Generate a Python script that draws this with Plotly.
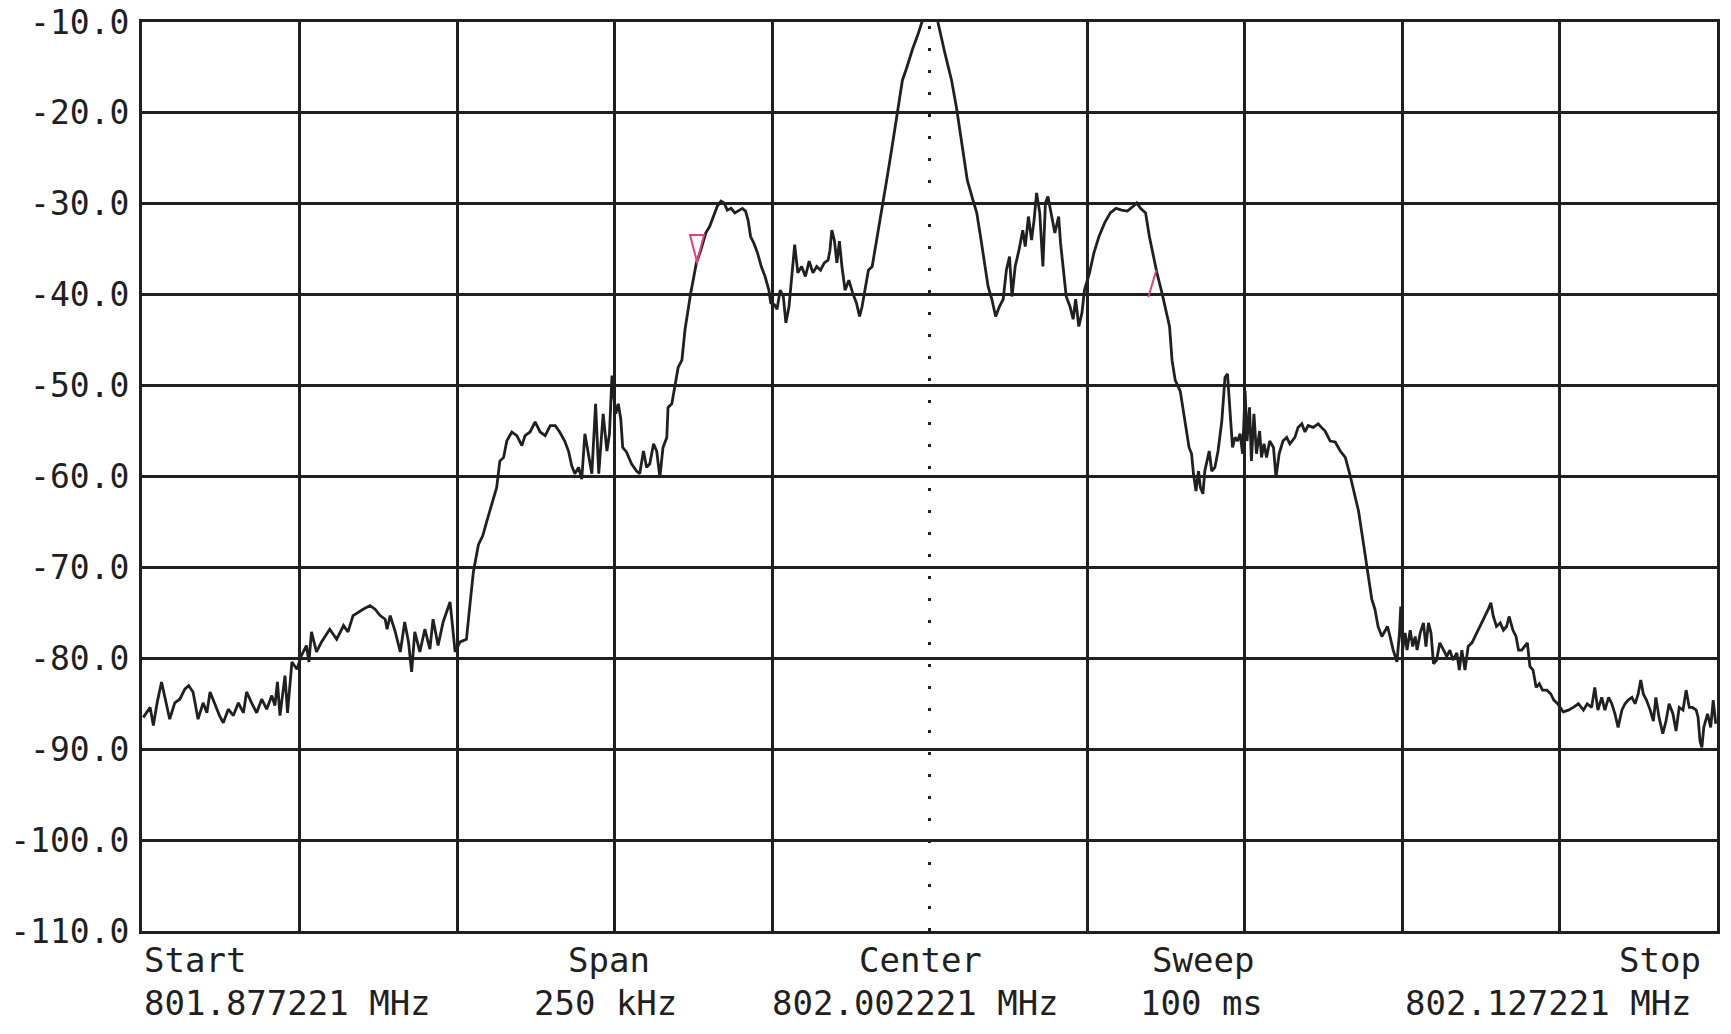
import plotly.graph_objects as go

# ---------------- data ----------------
center_mhz = 802.002221
span_khz = 250

freq_offset_khz = [
    -124.8, -124.3, -123.7, -123.2, -122.6, -121.9, -121.2, -120.6, -119.8, -119.0,
    -118.2, -117.6, -116.9, -116.1, -115.3, -114.7, -114.2, -113.4, -112.7, -112.1,
    -111.3, -110.5, -109.7, -108.9, -108.4, -107.6, -106.8, -106.0, -105.2, -104.4,
    -103.9, -103.5, -103.1, -102.3, -101.9, -101.2, -100.4, -99.7, -98.9, -98.5,
    -98.1, -97.3, -96.5, -95.2, -94.1, -93.0, -92.3, -91.5, -90.7, -89.9,
    -88.8, -88.0, -87.2, -86.4, -86.1, -85.6, -84.8, -84.0, -83.3, -82.7,
    -82.2, -81.7, -80.9, -80.1, -79.3, -78.8, -78.0, -77.2, -76.1, -75.3,
    -74.5, -73.5, -72.9, -72.4, -71.6, -70.9, -70.3,
    -69.8, -68.7, -68.2, -67.6, -67.1, -66.3, -65.5, -64.7, -64.2, -63.4,
    -62.6, -61.8, -61.0, -60.2, -59.4, -58.7, -57.9, -57.3, -56.8, -56.3,
    -55.7, -55.2, -54.7, -54.2, -53.6, -53.0, -52.5, -51.8, -51.2, -50.8,
    -50.4, -50.1, -49.8, -49.4, -49.0, -48.7, -48.1, -47.3, -46.5, -46.0,
    -45.4, -44.9, -44.4, -43.8, -43.3, -42.8, -42.3, -41.7, -41.5, -40.9,
    -40.4, -39.9, -39.3,
    -38.8, -37.9, -37.0, -36.3, -35.5, -34.9, -34.3, -33.7, -33.1, -32.6,
    -32.1, -31.5, -30.9, -30.3, -29.7, -29.2, -28.8, -28.4, -27.9, -27.3,
    -26.7, -26.1, -25.5, -25.2, -24.6, -24.2, -23.7, -23.2, -22.8, -22.3,
    -21.9, -21.4, -20.9, -20.3, -19.7, -19.1, -18.5, -17.9, -17.3, -16.7,
    -16.1, -15.8, -15.5, -15.1, -14.7, -14.3, -13.9, -13.4, -12.8, -12.2,
    -11.6, -11.1, -10.7, -10.2, -9.7, -9.1, -8.5, -7.9, -7.3, -6.8,
    -6.0, -5.2, -4.3, -3.6, -2.7, -1.8, -1.2, -0.5, 0.5, 1.2,
    1.7, 2.4, 3.0, 3.5, 4.3, 5.2,
    6.0, 6.9, 7.5, 8.1, 8.7, 9.3, 9.9, 10.5, 11.1, 11.7,
    12.2, 12.7, 13.1, 13.6, 14.2, 14.8, 15.2, 15.7, 16.2, 16.6,
    17.0, 17.5, 18.0, 18.4, 18.8, 19.3, 19.9, 20.5, 20.8, 21.2,
    21.7, 22.3, 22.8, 23.2, 23.7, 24.2, 24.6, 25.4, 26.1, 26.9,
    27.8, 28.7, 29.6, 30.5, 31.4, 32.3, 32.9, 33.5, 34.3, 34.9,
    35.5, 36.1, 36.9, 37.5, 38.1,
    38.5, 39.0, 39.8, 40.3, 40.8, 41.2, 41.6, 41.9, 42.3, 42.7,
    43.0, 43.4, 43.7, 44.1, 44.4, 44.8, 45.3, 45.8, 46.4, 46.9,
    47.3, 47.7, 48.1, 48.5, 48.9, 49.3, 49.7, 50.1, 50.4, 50.8,
    51.1, 51.5, 51.9, 52.4, 52.7, 53.1, 53.5, 54.0, 54.6, 55.0,
    55.5, 56.1, 56.7, 57.2, 58.0, 58.5, 59.1, 59.6, 60.1, 60.9,
    61.7, 62.2, 62.8, 63.6, 64.4, 65.2, 66.0, 66.7, 67.4, 68.1,
    68.8, 69.5,
    70.2, 70.7, 71.2, 71.8, 72.3, 72.7, 73.1, 73.6, 74.2, 74.6,
    74.8, 75.1, 75.5, 75.8, 76.3, 76.7, 77.1, 77.4, 77.9, 78.4,
    78.8, 79.2, 79.6, 80.0, 80.5, 81.0, 81.6, 82.1, 82.6, 83.1,
    83.7, 84.1, 84.5, 85.0, 85.5, 86.1, 86.6, 87.1, 87.6, 88.2,
    88.7, 89.1, 89.5, 90.0, 90.6, 91.1, 91.6, 92.0, 92.6, 93.1,
    93.5, 94.0, 94.5, 94.9, 95.3, 95.8, 96.3, 96.8, 97.3, 98.0,
    98.6, 99.1, 99.7, 100.1, 100.6, 101.4, 102.2, 103.0, 103.8, 104.4,
    105.1, 105.6, 106.1, 106.7, 107.2, 107.8, 108.3, 108.8, 109.3, 109.9,
    110.4, 110.9, 111.5, 112.0, 112.5, 112.9, 113.3, 113.8, 114.4, 114.9,
    115.3, 115.8, 116.4, 116.9, 117.4, 118.0, 118.5, 119.0, 119.6, 120.1,
    120.6, 121.1, 121.7, 122.0, 122.3, 122.6, 122.9, 123.5, 124.0, 124.4,
    124.8,
]

level_dbm = [
    -86.5, -86.0, -85.4, -87.4, -84.9, -82.6, -84.9, -86.7, -84.9, -84.5,
    -83.4, -83.0, -83.7, -86.7, -84.9, -86.0, -83.7, -85.2, -86.3, -87.1,
    -85.6, -86.3, -84.9, -86.0, -83.7, -84.9, -86.0, -84.5, -85.6, -84.1,
    -85.2, -82.6, -86.3, -81.9, -86.0, -80.4, -81.2, -79.7, -78.6, -80.4,
    -77.1, -79.3, -78.2, -76.8, -77.9, -76.4, -77.1, -75.3, -74.9, -74.6,
    -74.2, -74.6, -75.3, -75.7, -76.8, -75.3, -77.1, -79.3, -76.0, -78.2,
    -81.5, -77.1, -79.3, -76.8, -79.0, -75.7, -78.6, -76.0, -73.8, -79.3,
    -78.2, -77.9, -73.8, -70.5, -67.5, -66.5, -65.0,
    -63.8, -61.2, -58.3, -57.9, -56.1, -55.1, -55.5, -56.6, -55.5, -55.1,
    -54.0, -55.1, -55.5, -54.4, -54.4, -55.1, -56.1, -57.2, -58.8, -59.7,
    -59.0, -60.3, -55.3, -57.5, -59.7, -52.0, -59.7, -53.1, -57.2, -55.3,
    -48.9, -51.3, -53.1, -52.0, -53.7, -56.8, -57.3, -58.6, -59.4, -59.7,
    -57.2, -59.0, -58.6, -56.4, -57.2, -60.1, -56.8, -55.7, -52.4, -52.0,
    -50.2, -48.0, -47.2,
    -43.8, -39.8, -36.5, -35.1, -33.2, -32.5, -31.4, -30.3, -29.7, -29.9,
    -30.7, -30.5, -31.0, -30.7, -30.5, -30.8, -31.8, -33.6, -34.3, -35.4,
    -36.9, -38.0, -39.5, -40.9, -41.1, -41.6, -39.5, -40.2, -43.1, -41.3,
    -38.0, -34.5, -37.6, -36.9, -38.0, -36.3, -37.6, -36.9, -37.3, -36.5,
    -36.2, -35.1, -32.9, -34.0, -36.5, -34.1, -36.9, -39.5, -38.4, -39.8,
    -40.9, -42.4, -41.3, -39.1, -37.3, -36.9, -34.3, -31.8, -29.6, -27.4,
    -24.0, -20.5, -16.4, -15.0, -13.0, -11.3, -10.0, -9.3, -9.2, -9.6,
    -11.3, -13.3, -15.0, -16.4, -19.5, -23.5,
    -27.4, -29.6, -31.0, -33.6, -36.5, -39.1, -40.5, -42.4, -41.3, -40.5,
    -37.3, -35.8, -40.2, -36.9, -35.1, -32.9, -34.7, -31.4, -34.0, -31.8,
    -28.8, -31.0, -36.9, -29.9, -29.2, -31.0, -33.2, -31.4, -34.3, -36.9,
    -40.2, -41.3, -42.7, -40.5, -43.5, -42.0, -39.5, -37.6, -35.4, -33.6,
    -32.1, -31.0, -30.5, -30.7, -30.8, -30.3, -29.9, -30.5, -31.0, -33.6,
    -35.8, -37.6, -39.8, -41.6, -43.5,
    -47.2, -49.4, -50.6, -52.8, -55.0, -56.8, -57.5, -59.7, -61.6, -59.4,
    -61.2, -61.9, -59.4, -58.3, -57.2, -59.4, -59.0, -57.2, -53.9, -49.1,
    -48.7, -52.8, -56.8, -55.7, -56.1, -55.3, -57.5, -50.6, -56.1, -52.4,
    -58.3, -53.1, -57.5, -55.0, -57.9, -56.4, -57.9, -56.1, -56.8, -60.1,
    -57.5, -56.1, -55.7, -56.4, -55.7, -54.6, -54.2, -55.1, -54.4, -54.6,
    -54.2, -54.6, -55.0, -56.1, -56.2, -57.2, -57.9, -59.7, -61.9, -63.8,
    -67.0, -70.5,
    -73.5, -74.6, -76.5, -77.6, -76.9, -76.5, -77.6, -79.1, -80.4, -77.2,
    -74.3, -79.1, -77.2, -79.1, -76.9, -78.7, -77.6, -79.1, -77.2, -76.1,
    -78.7, -76.1, -77.2, -80.6, -80.2, -78.3, -79.1, -79.8, -79.1, -80.2,
    -79.4, -81.3, -79.1, -81.3, -78.7, -78.3, -77.6, -76.9, -76.1, -75.4,
    -74.6, -73.9, -75.4, -76.5, -76.1, -76.9, -76.5, -75.4, -76.9, -77.6,
    -79.1, -79.1, -78.7, -78.3, -80.9, -81.3, -83.2, -82.8, -83.5, -83.5,
    -83.9, -84.6, -85.0, -85.4, -85.9, -85.7, -85.4, -85.0, -85.7, -85.0,
    -85.4, -83.2, -85.7, -84.3, -85.7, -84.3, -85.0, -86.1, -87.6, -85.7,
    -85.0, -84.6, -84.3, -85.0, -83.9, -82.4, -83.9, -84.6, -85.7, -86.9,
    -84.3, -86.5, -88.3, -86.9, -85.0, -86.1, -88.0, -85.4, -85.7, -83.5,
    -85.4, -85.4, -85.7, -86.5, -89.1, -89.8, -87.6, -86.1, -87.6, -84.6,
    -87.2,
]

y_tick_values = [-10, -20, -30, -40, -50, -60, -70, -80, -90, -100, -110]
y_tick_labels = ["-10.0", "-20.0", "-30.0", "-40.0", "-50.0", "-60.0",
                 "-70.0", "-80.0", "-90.0", "-100.0", "-110.0"]
x_grid_khz = [-100, -75, -50, -25, 25, 50, 75, 100]
center_line_khz = 0

marker1_khz, marker1_dbm = -36.9, -36.4
marker2_khz, marker2_dbm = 36.0, -37.3

footer_line1 = ["Start", "Span", "Center", "Sweep", "Stop"]
footer_line2 = ["801.877221 MHz", "250 kHz", "802.002221 MHz", "100 ms", "802.127221 MHz"]

# ---------------- styling ----------------
FONT = "DejaVu Sans Mono, Liberation Mono, monospace"
INK = "#202020"
MAGENTA = "#e0407c"
FS = 34
TICK_FS = 33

fig = go.Figure()
fig.add_trace(go.Scatter(
    x=freq_offset_khz, y=level_dbm, mode="lines",
    line=dict(color=INK, width=2.8), showlegend=False, hoverinfo="skip",
))

fig.update_layout(
    width=1731, height=1034,
    margin=dict(l=142, r=14, t=22, b=103, autoexpand=False),
    paper_bgcolor="white", plot_bgcolor="white",
    font=dict(family=FONT, color=INK, size=FS),
    showlegend=False,
)
fig.update_xaxes(
    range=[-span_khz / 2, span_khz / 2], tickvals=x_grid_khz, showticklabels=False,
    ticks="", showgrid=True, gridcolor=INK, gridwidth=2.5, zeroline=False,
    showline=True, mirror=True, linecolor=INK, linewidth=3, automargin=False,
)
fig.update_yaxes(
    range=[-110, -10], tickvals=y_tick_values, ticktext=y_tick_labels,
    ticks="", showgrid=True, gridcolor=INK, gridwidth=2.5, zeroline=False,
    showline=True, mirror=True, linecolor=INK, linewidth=3, automargin=False,
    tickfont=dict(family=FONT, size=TICK_FS, color=INK), ticklabelstandoff=3,
    ticklabeloverflow="allow",
)

# dotted center line
fig.add_shape(type="line", xref="x", yref="paper", x0=center_line_khz, x1=center_line_khz,
              y0=0, y1=1, line=dict(color=INK, width=3, dash="3px,19px"), layer="below")

# markers
fig.add_shape(type="path", xref="x", yref="y", xsizemode="pixel", ysizemode="pixel",
              xanchor=marker1_khz, yanchor=marker1_dbm,
              path="M 0 0 L -7 27 L 7 27 Z", line=dict(color=MAGENTA, width=2))
fig.add_shape(type="path", xref="x", yref="y", xsizemode="pixel", ysizemode="pixel",
              xanchor=marker2_khz, yanchor=marker2_dbm,
              path="M 0 0 L -8 -27", line=dict(color=MAGENTA, width=2))

# footer annotations
pos1 = [(0.0, "left"), (0.2965, "center"), (0.494, "center"), (0.6737, "center"), (0.9911, "right")]
pos2 = [(0.0, "left"), (0.294, "center"), (0.4914, "center"), (0.673, "center"), (0.9857, "right")]
for txt, (px, anc) in zip(footer_line1, pos1):
    fig.add_annotation(text=txt, xref="paper", yref="paper", x=px, y=0, xanchor=anc,
                       yanchor="middle", yshift=-29, showarrow=False,
                       font=dict(family=FONT, size=FS, color=INK))
for txt, (px, anc) in zip(footer_line2, pos2):
    fig.add_annotation(text=txt, xref="paper", yref="paper", x=px, y=0, xanchor=anc,
                       yanchor="middle", yshift=-72, showarrow=False,
                       font=dict(family=FONT, size=FS, color=INK))

fig.write_html("out.html")
